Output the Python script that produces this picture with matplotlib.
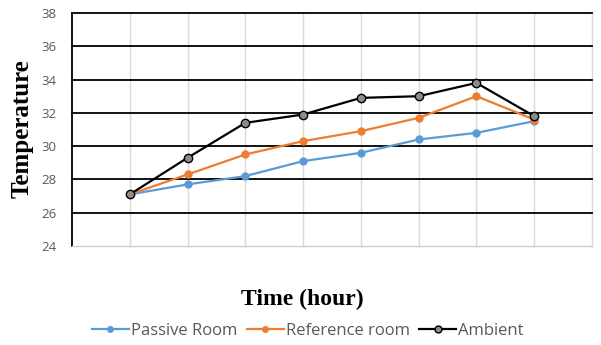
import numpy as np
import matplotlib.pyplot as plt
from matplotlib.lines import Line2D

# hourly readings
hours = [1, 2, 3, 4, 5, 6, 7, 8]
passive_room = [27.1, 27.7, 28.2, 29.1, 29.6, 30.4, 30.8, 31.5]
reference_room = [27.1, 28.3, 29.5, 30.3, 30.9, 31.7, 33.0, 31.6]
ambient = [27.1, 29.3, 31.4, 31.9, 32.9, 33.0, 33.8, 31.8]

y_ticks = [24, 26, 28, 30, 32, 34, 36, 38]

BLUE = '#5b9bd5'
ORANGE = '#ed7d31'

fig = plt.figure(figsize=(6.01, 3.45), dpi=100)
ax = fig.add_axes([72 / 601, 1 - 246 / 345, 520 / 601, 233 / 345])

ax.plot(hours, passive_room, color=BLUE, lw=1.6, marker='o', ms=5,
        mfc=BLUE, mec=BLUE, zorder=3)
ax.plot(hours, reference_room, color=ORANGE, lw=1.6, marker='o', ms=5,
        mfc=ORANGE, mec=ORANGE, zorder=4)
ax.plot(hours, ambient, color='black', lw=1.6, marker='o', ms=6,
        mfc='#8c8c8c', mec='black', mew=1.0, zorder=5)

ax.set_xlim(0, 9)
ax.set_ylim(24, 38)
ax.set_yticks(y_ticks)
ax.set_xticks(range(1, 10))
ax.set_xticklabels([])
ax.tick_params(axis='x', length=0)
ax.tick_params(axis='y', length=0, pad=11, labelsize=9.5, labelcolor='#595959')
for lbl in ax.get_yticklabels():
    lbl.set_fontfamily('Open Sans')

# horizontal black grid, light vertical grid
for y in y_ticks[1:]:
    ax.axhline(y, color='black', lw=1.3, zorder=1, clip_on=False)
for x in range(1, 10):
    ax.axvline(x, color='#d9d9d9', lw=1.0, zorder=0, clip_on=False)

for side in ['top', 'right']:
    ax.spines[side].set_visible(False)
ax.spines['bottom'].set_color('#cfcfcf')
ax.spines['bottom'].set_linewidth(1.0)
ax.spines['left'].set_color('black')
ax.spines['left'].set_linewidth(1.3)

fig.text(22 / 601, 1 - 129 / 345, 'Temperature', rotation=90, ha='center',
         va='center', fontfamily='Liberation Serif', fontweight='bold', fontsize=18)
fig.text(302 / 601, 1 - 299 / 345, 'Time (hour)', ha='center', va='center',
         fontfamily='Liberation Serif', fontweight='bold', fontsize=17)

handles = [
    Line2D([], [], color=BLUE, lw=1.6, marker='o', ms=4, mfc=BLUE, mec=BLUE),
    Line2D([], [], color=ORANGE, lw=1.6, marker='o', ms=4, mfc=ORANGE, mec=ORANGE),
    Line2D([], [], color='black', lw=1.6, marker='o', ms=5, mfc='#8c8c8c', mec='black'),
]
fig.legend(handles, ['Passive Room', 'Reference room', 'Ambient'],
           loc='center', bbox_to_anchor=(308 / 601, 1 - 331 / 345), ncol=3,
           frameon=False, handlelength=2.2, handletextpad=0.15, columnspacing=0.55,
           prop={'family': 'Open Sans', 'size': 12}, labelcolor='#595959')

fig.savefig('out.png', dpi=100)
